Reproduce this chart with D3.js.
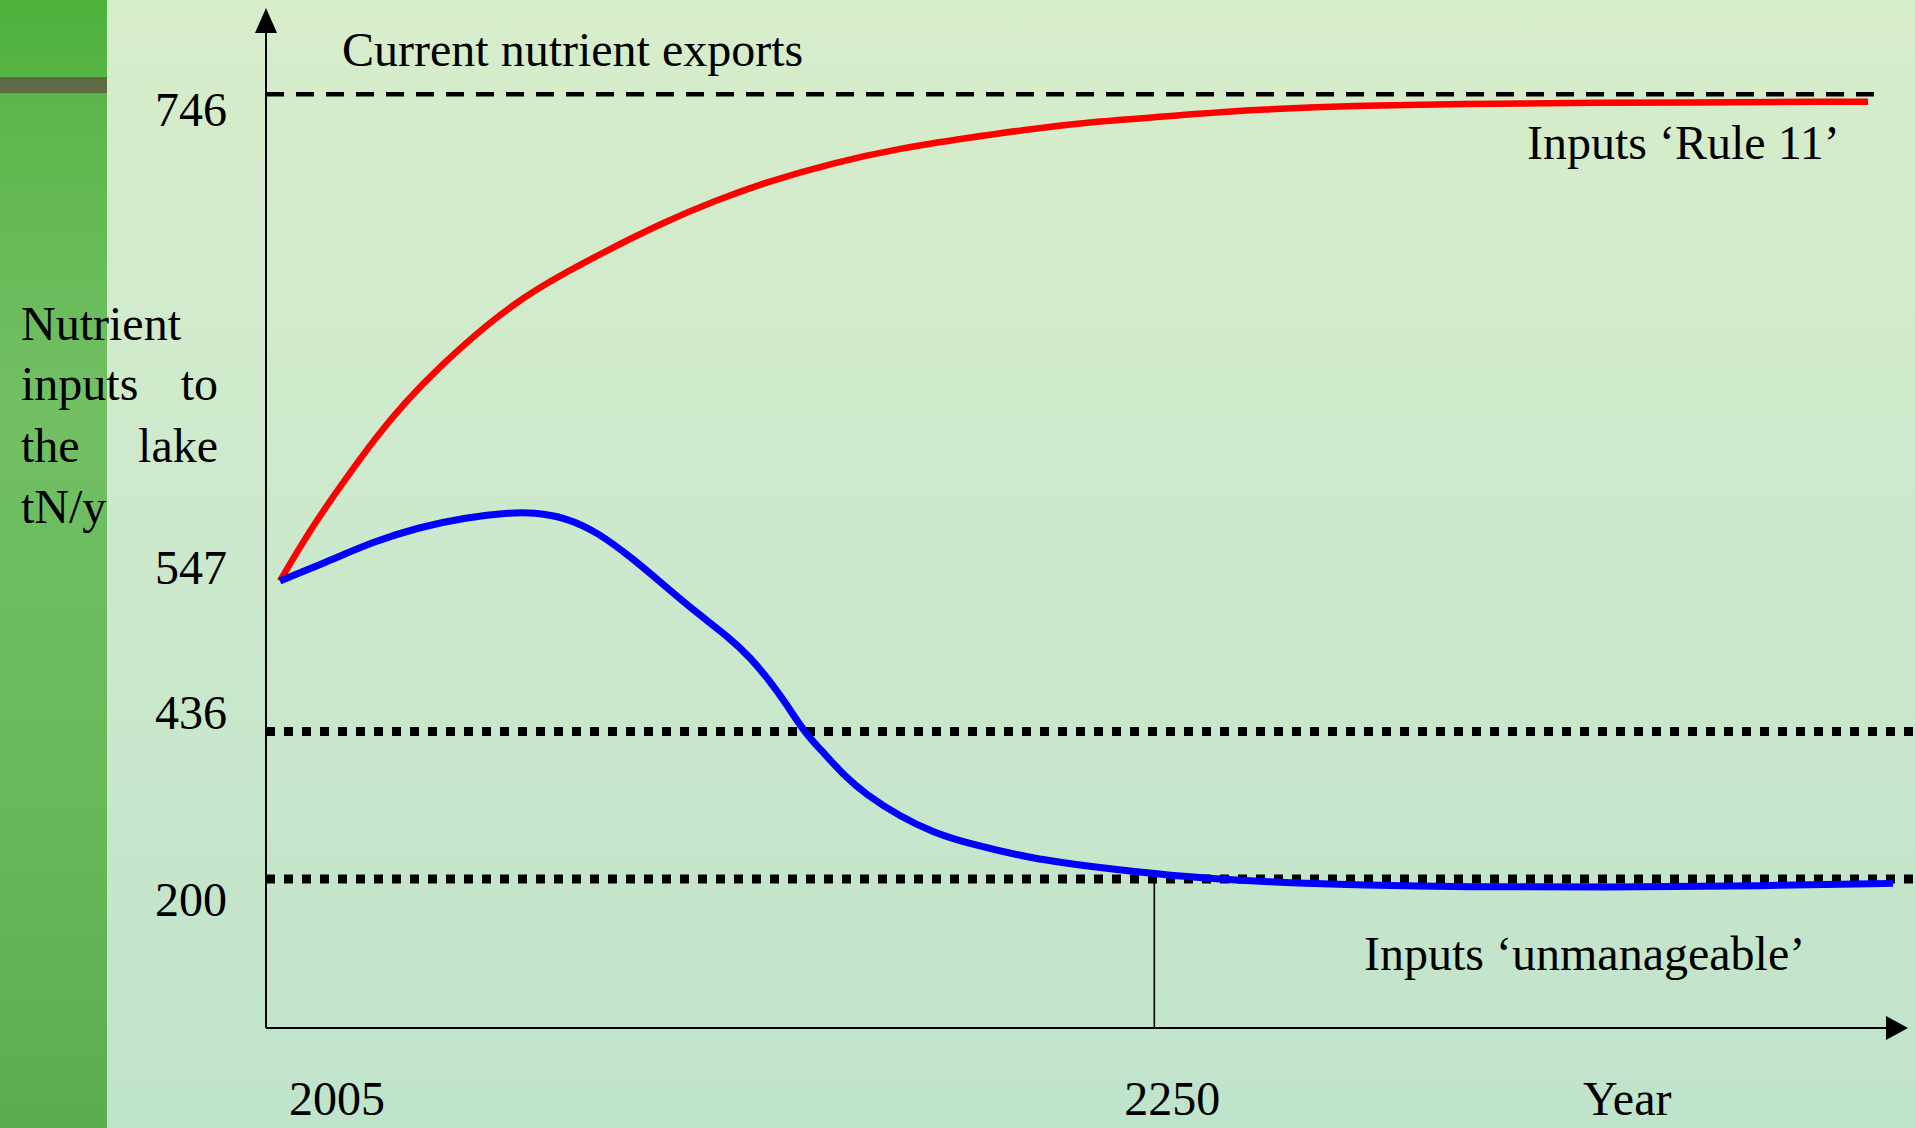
<!DOCTYPE html>
<html><head><meta charset="utf-8">
<script src="https://cdn.jsdelivr.net/npm/d3@7"></script>
<style>html,body{margin:0;padding:0;overflow:hidden;background:#c8e6cc}</style>
</head><body>
<svg id="chart" width="1915" height="1128"></svg>
<script>
// ---------- data ----------
const ruleYears  = [2005, 2013, 2023, 2032, 2040, 2050, 2063, 2076, 2095, 2113, 2127, 2141, 2160, 2179, 2197, 2216, 2235, 2253, 2281, 2309, 2337, 2365, 2450];
const ruleValues = [547, 567, 588, 606, 620, 635, 652, 666, 681, 694, 702.5, 710, 718, 724, 728, 732, 735, 737, 740, 741.5, 742, 742.5, 743];

const unmanYears  = [2005, 2020, 2031, 2044, 2057, 2070, 2076, 2085, 2094, 2104, 2113, 2122, 2131, 2137, 2142, 2147, 2152, 2158, 2163, 2169, 2179, 2188, 2197, 2216, 2235, 2253, 2281, 2309, 2337, 2375, 2421, 2457];
const unmanValues = [547, 556, 563, 569, 573, 575, 575, 573, 567, 556, 543, 523, 505, 490, 474, 456, 434, 398, 366, 336, 299, 275, 258, 232, 218, 206, 195, 190, 187, 187, 189, 193];

const yTickValues = [200, 436, 547, 746];
const yTickLabels = ["200", "436", "547", "746"];
const xTickValues = [2005, 2250];
const xTickLabels = ["2005", "2250"];
const exportLevel = 746;
const thresholdLevels = [436, 200];
const markerYear = 2250;
const markerLevel = 200;
const yTitleLines = [["Nutrient"], ["inputs", "to"], ["the", "lake"], ["tN/y"]];
const labelTexts = {
  exports: "Current nutrient exports",
  rule: "Inputs \u2018Rule 11\u2019",
  unman: "Inputs \u2018unmanageable\u2019",
  xTitle: "Year"
};

// ---------- layout ----------
const W = 1915, H = 1128;
const axisX = 266, axisY = 1028, yAxisTop = 33, xAxisRight = 1886;
const font = "'Liberation Serif','Times New Roman',serif";
const fs = 48;
const yTickOffsets = [37, -2.5, 3, 32];   // baseline offsets of tick labels vs. their level
const xTickOffsets = [9, -30];            // start-x offsets of year labels vs. their year
const bottomBaseline = 1115;

const svg = d3.select("#chart");
const defs = svg.append("defs");

const bg = defs.append("linearGradient").attr("id", "bg").attr("x1", 0).attr("y1", 0).attr("x2", 0).attr("y2", 1);
bg.append("stop").attr("offset", 0).attr("stop-color", "#d7edca");
bg.append("stop").attr("offset", 0.45).attr("stop-color", "#cde9cc");
bg.append("stop").attr("offset", 1).attr("stop-color", "#c0e3cb");

const strip = defs.append("linearGradient").attr("id", "strip").attr("x1", 0).attr("y1", 0).attr("x2", 0).attr("y2", 1);
strip.append("stop").attr("offset", 0).attr("stop-color", "#4cb23b");
strip.append("stop").attr("offset", 0.1).attr("stop-color", "#5db64c");
strip.append("stop").attr("offset", 0.35).attr("stop-color", "#72bf64");
strip.append("stop").attr("offset", 0.7).attr("stop-color", "#69b95b");
strip.append("stop").attr("offset", 1).attr("stop-color", "#5aad4c");

svg.append("rect").attr("width", W).attr("height", H).attr("fill", "url(#bg)");
svg.append("rect").attr("width", 107).attr("height", H).attr("fill", "url(#strip)");
svg.append("rect").attr("y", 77).attr("width", 107).attr("height", 16).attr("fill", "#5f6a45");

// ---------- scales ----------
const x = d3.scaleLinear().domain([2005, 2250]).range([280, 1154.3]);
const y = d3.scaleLinear().domain([200, 436, 547, 746]).range([879, 731.5, 581, 94.3]);

// ---------- reference lines ----------
svg.append("line")
  .attr("x1", axisX).attr("x2", 1882)
  .attr("y1", y(exportLevel)).attr("y2", y(exportLevel))
  .attr("stroke", "#000").attr("stroke-width", 4.5).attr("stroke-dasharray", "18,12");

svg.selectAll("line.thr").data(thresholdLevels).join("line").attr("class", "thr")
  .attr("x1", axisX).attr("x2", W)
  .attr("y1", d => y(d)).attr("y2", d => y(d))
  .attr("stroke", "#000").attr("stroke-width", 9).attr("stroke-dasharray", "9,9");

svg.append("line")
  .attr("x1", x(markerYear)).attr("x2", x(markerYear))
  .attr("y1", y(markerLevel)).attr("y2", axisY)
  .attr("stroke", "#000").attr("stroke-width", 1.6);

// ---------- axes ----------
svg.append("line").attr("x1", axisX).attr("x2", axisX).attr("y1", yAxisTop).attr("y2", axisY)
  .attr("stroke", "#000").attr("stroke-width", 2);
svg.append("line").attr("x1", axisX).attr("x2", xAxisRight).attr("y1", axisY).attr("y2", axisY)
  .attr("stroke", "#000").attr("stroke-width", 2.2);
svg.append("path").attr("d", `M${axisX},8 L${axisX - 11},${yAxisTop} L${axisX + 11},${yAxisTop} Z`).attr("fill", "#000");
svg.append("path").attr("d", `M1908,${axisY} L${xAxisRight},${axisY - 12} L${xAxisRight},${axisY + 12} Z`).attr("fill", "#000");

// ---------- curves ----------
const line = d3.line().x(d => x(d[0])).y(d => y(d[1])).curve(d3.curveBasis);
const ruleData = ruleYears.map((yr, i) => [yr, ruleValues[i]]);
const unmanData = unmanYears.map((yr, i) => [yr, unmanValues[i]]);

svg.append("path").datum(ruleData).attr("d", line)
  .attr("fill", "none").attr("stroke", "#ff0000").attr("stroke-width", 6.5);
svg.append("path").datum(unmanData).attr("d", line)
  .attr("fill", "none").attr("stroke", "#0000ff").attr("stroke-width", 7);

// ---------- text ----------
const txt = (s, xx, yy, anchor) => svg.append("text")
  .attr("x", xx).attr("y", yy).attr("text-anchor", anchor || "start")
  .attr("font-family", font).attr("font-size", fs).attr("fill", "#000").text(s);

svg.selectAll("text.ytick").data(yTickValues).join("text").attr("class", "ytick")
  .attr("x", 227).attr("y", (d, i) => y(d) + yTickOffsets[i])
  .attr("text-anchor", "end").attr("font-family", font).attr("font-size", fs)
  .text((d, i) => yTickLabels[i]);

svg.selectAll("text.xtick").data(xTickValues).join("text").attr("class", "xtick")
  .attr("x", (d, i) => x(d) + xTickOffsets[i]).attr("y", bottomBaseline)
  .attr("font-family", font).attr("font-size", fs)
  .text((d, i) => xTickLabels[i]);

txt(labelTexts.xTitle, 1583, bottomBaseline);
txt(labelTexts.exports, 342, 66);
txt(labelTexts.rule, 1527, 159);
txt(labelTexts.unman, 1364, 970);

// justified y-axis title
const titleBaselines = [340, 400, 462, 523];
yTitleLines.forEach((words, i) => {
  txt(words[0], 21, titleBaselines[i]);
  if (words.length > 1) txt(words[1], 218, titleBaselines[i], "end");
});
</script>
</body></html>
